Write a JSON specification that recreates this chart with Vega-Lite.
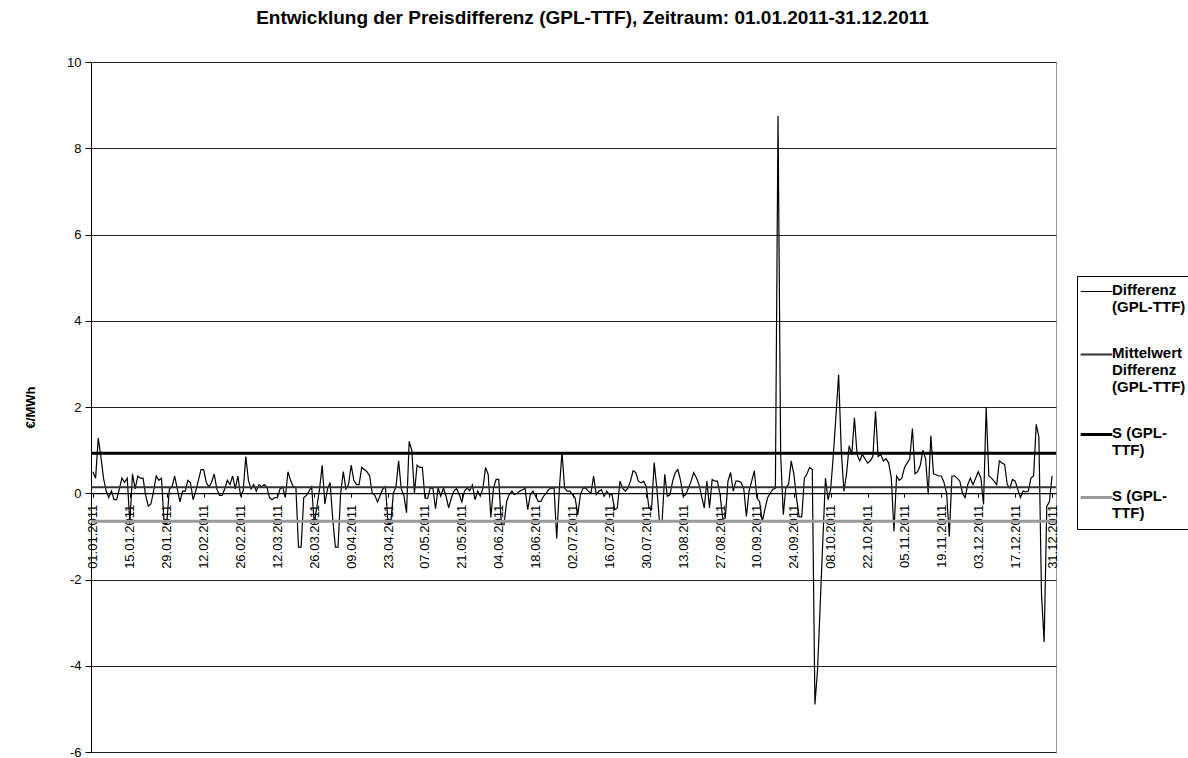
{
"$schema": "https://vega.github.io/schema/vega-lite/v6.json",
"width": 965, "height": 690,
"autosize": "none",
"padding": {"left": 91, "top": 62, "right": 132, "bottom": 6},
"background": "white",
"title": {"text": "Entwicklung der Preisdifferenz (GPL-TTF), Zeitraum: 01.01.2011-31.12.2011", "font": "Liberation Sans", "fontSize": 19, "fontWeight": "bold", "color": "black", "anchor": "middle", "frame": "group", "dx": 19, "offset": 28},
"config": {"font": "Liberation Sans", "view": {"stroke": "#999", "strokeWidth": 1}},
"datasets": {
"diff": [
{"d":"2011-01-01","v":0.5},{"d":"2011-01-02","v":0.35},{"d":"2011-01-03","v":1.28},{"d":"2011-01-04","v":0.85},{"d":"2011-01-05","v":0.35},{"d":"2011-01-06","v":0.05},{"d":"2011-01-07","v":-0.1},{"d":"2011-01-08","v":0.05},{"d":"2011-01-09","v":-0.15},{"d":"2011-01-10","v":-0.15},{"d":"2011-01-11","v":0.1},{"d":"2011-01-12","v":0.35},{"d":"2011-01-13","v":0.25},{"d":"2011-01-14","v":0.35},{"d":"2011-01-15","v":-0.7},{"d":"2011-01-16","v":0.45},{"d":"2011-01-17","v":0.1},{"d":"2011-01-18","v":0.4},{"d":"2011-01-19","v":0.35},{"d":"2011-01-20","v":0.35},{"d":"2011-01-21","v":-0.05},{"d":"2011-01-22","v":-0.3},{"d":"2011-01-23","v":-0.25},{"d":"2011-01-24","v":0.05},{"d":"2011-01-25","v":0.4},{"d":"2011-01-26","v":0.3},{"d":"2011-01-27","v":0.35},{"d":"2011-01-28","v":-0.7},{"d":"2011-01-29","v":-0.7},{"d":"2011-01-30","v":0.1},{"d":"2011-01-31","v":0.15},
{"d":"2011-02-01","v":0.4},{"d":"2011-02-02","v":0.1},{"d":"2011-02-03","v":-0.2},{"d":"2011-02-04","v":0.05},{"d":"2011-02-05","v":0.05},{"d":"2011-02-06","v":0.3},{"d":"2011-02-07","v":0.25},{"d":"2011-02-08","v":-0.15},{"d":"2011-02-09","v":0.05},{"d":"2011-02-10","v":0.3},{"d":"2011-02-11","v":0.55},{"d":"2011-02-12","v":0.55},{"d":"2011-02-13","v":0.25},{"d":"2011-02-14","v":0.15},{"d":"2011-02-15","v":0.25},{"d":"2011-02-16","v":0.45},{"d":"2011-02-17","v":0.1},{"d":"2011-02-18","v":-0.05},{"d":"2011-02-19","v":-0.05},{"d":"2011-02-20","v":0.1},{"d":"2011-02-21","v":0.3},{"d":"2011-02-22","v":0.2},{"d":"2011-02-23","v":0.4},{"d":"2011-02-24","v":0.1},{"d":"2011-02-25","v":0.4},{"d":"2011-02-26","v":-0.05},{"d":"2011-02-27","v":0.05},{"d":"2011-02-28","v":0.85},
{"d":"2011-03-01","v":0.3},{"d":"2011-03-02","v":0.1},{"d":"2011-03-03","v":0.2},{"d":"2011-03-04","v":0.05},{"d":"2011-03-05","v":0.2},{"d":"2011-03-06","v":0.15},{"d":"2011-03-07","v":0.2},{"d":"2011-03-08","v":0.15},{"d":"2011-03-09","v":-0.1},{"d":"2011-03-10","v":-0.15},{"d":"2011-03-11","v":-0.1},{"d":"2011-03-12","v":-0.1},{"d":"2011-03-13","v":0.1},{"d":"2011-03-14","v":0.15},{"d":"2011-03-15","v":-0.1},{"d":"2011-03-16","v":0.5},{"d":"2011-03-17","v":0.3},{"d":"2011-03-18","v":0.15},{"d":"2011-03-19","v":0.15},{"d":"2011-03-20","v":-1.25},{"d":"2011-03-21","v":-1.25},{"d":"2011-03-22","v":-0.1},{"d":"2011-03-23","v":-0.05},{"d":"2011-03-24","v":0.05},{"d":"2011-03-25","v":0.15},{"d":"2011-03-26","v":-0.7},{"d":"2011-03-27","v":-0.3},{"d":"2011-03-28","v":0.1},{"d":"2011-03-29","v":0.65},{"d":"2011-03-30","v":-0.25},{"d":"2011-03-31","v":0.1},
{"d":"2011-04-01","v":0.25},{"d":"2011-04-02","v":-0.6},{"d":"2011-04-03","v":-1.25},{"d":"2011-04-04","v":-1.25},{"d":"2011-04-05","v":0.0},{"d":"2011-04-06","v":0.5},{"d":"2011-04-07","v":0.1},{"d":"2011-04-08","v":0.2},{"d":"2011-04-09","v":0.65},{"d":"2011-04-10","v":0.3},{"d":"2011-04-11","v":0.2},{"d":"2011-04-12","v":0.2},{"d":"2011-04-13","v":0.6},{"d":"2011-04-14","v":0.55},{"d":"2011-04-15","v":0.5},{"d":"2011-04-16","v":0.4},{"d":"2011-04-17","v":0.0},{"d":"2011-04-18","v":-0.05},{"d":"2011-04-19","v":-0.2},{"d":"2011-04-20","v":-0.05},{"d":"2011-04-21","v":0.1},{"d":"2011-04-22","v":0.15},{"d":"2011-04-23","v":-0.7},{"d":"2011-04-24","v":-0.7},{"d":"2011-04-25","v":0.0},{"d":"2011-04-26","v":0.15},{"d":"2011-04-27","v":0.75},{"d":"2011-04-28","v":0.1},{"d":"2011-04-29","v":-0.05},{"d":"2011-04-30","v":-0.45},
{"d":"2011-05-01","v":1.2},{"d":"2011-05-02","v":1.0},{"d":"2011-05-03","v":0.0},{"d":"2011-05-04","v":0.65},{"d":"2011-05-05","v":0.6},{"d":"2011-05-06","v":0.6},{"d":"2011-05-07","v":-0.11},{"d":"2011-05-08","v":-0.12},{"d":"2011-05-09","v":0.12},{"d":"2011-05-10","v":0.12},{"d":"2011-05-11","v":-0.36},{"d":"2011-05-12","v":0.12},{"d":"2011-05-13","v":-0.07},{"d":"2011-05-14","v":0.12},{"d":"2011-05-15","v":-0.07},{"d":"2011-05-16","v":-0.34},{"d":"2011-05-17","v":-0.11},{"d":"2011-05-18","v":0.05},{"d":"2011-05-19","v":0.11},{"d":"2011-05-20","v":-0.03},{"d":"2011-05-21","v":-0.2},{"d":"2011-05-22","v":0.05},{"d":"2011-05-23","v":0.12},{"d":"2011-05-24","v":0.06},{"d":"2011-05-25","v":0.19},{"d":"2011-05-26","v":-0.15},{"d":"2011-05-27","v":0.05},{"d":"2011-05-28","v":-0.07},{"d":"2011-05-29","v":0.12},{"d":"2011-05-30","v":0.6},{"d":"2011-05-31","v":0.44},
{"d":"2011-06-01","v":-0.56},{"d":"2011-06-02","v":0.12},{"d":"2011-06-03","v":0.32},{"d":"2011-06-04","v":0.32},{"d":"2011-06-05","v":-0.73},{"d":"2011-06-06","v":-0.73},{"d":"2011-06-07","v":-0.19},{"d":"2011-06-08","v":-0.03},{"d":"2011-06-09","v":0.05},{"d":"2011-06-10","v":-0.03},{"d":"2011-06-11","v":0.0},{"d":"2011-06-12","v":0.05},{"d":"2011-06-13","v":0.08},{"d":"2011-06-14","v":0.11},{"d":"2011-06-15","v":-0.38},{"d":"2011-06-16","v":-0.03},{"d":"2011-06-17","v":0.05},{"d":"2011-06-18","v":-0.07},{"d":"2011-06-19","v":-0.19},{"d":"2011-06-20","v":-0.19},{"d":"2011-06-21","v":-0.07},{"d":"2011-06-22","v":0.0},{"d":"2011-06-23","v":0.09},{"d":"2011-06-24","v":0.12},{"d":"2011-06-25","v":0.12},{"d":"2011-06-26","v":-1.05},{"d":"2011-06-27","v":0.1},{"d":"2011-06-28","v":0.95},{"d":"2011-06-29","v":0.12},{"d":"2011-06-30","v":0.05},
{"d":"2011-07-01","v":0.05},{"d":"2011-07-02","v":-0.03},{"d":"2011-07-03","v":-0.11},{"d":"2011-07-04","v":-0.5},{"d":"2011-07-05","v":-0.03},{"d":"2011-07-06","v":0.12},{"d":"2011-07-07","v":0.12},{"d":"2011-07-08","v":0.05},{"d":"2011-07-09","v":0.0},{"d":"2011-07-10","v":0.4},{"d":"2011-07-11","v":-0.03},{"d":"2011-07-12","v":0.05},{"d":"2011-07-13","v":0.08},{"d":"2011-07-14","v":-0.07},{"d":"2011-07-15","v":0.05},{"d":"2011-07-16","v":-0.03},{"d":"2011-07-17","v":-0.03},{"d":"2011-07-18","v":-0.38},{"d":"2011-07-19","v":-0.34},{"d":"2011-07-20","v":0.28},{"d":"2011-07-21","v":0.12},{"d":"2011-07-22","v":0.05},{"d":"2011-07-23","v":0.12},{"d":"2011-07-24","v":0.28},{"d":"2011-07-25","v":0.52},{"d":"2011-07-26","v":0.48},{"d":"2011-07-27","v":0.28},{"d":"2011-07-28","v":0.24},{"d":"2011-07-29","v":0.28},{"d":"2011-07-30","v":0.15},{"d":"2011-07-31","v":-0.34},
{"d":"2011-08-01","v":-0.38},{"d":"2011-08-02","v":0.71},{"d":"2011-08-03","v":0.12},{"d":"2011-08-04","v":-0.66},{"d":"2011-08-05","v":-0.66},{"d":"2011-08-06","v":0.44},{"d":"2011-08-07","v":-0.07},{"d":"2011-08-08","v":-0.03},{"d":"2011-08-09","v":0.28},{"d":"2011-08-10","v":0.48},{"d":"2011-08-11","v":0.55},{"d":"2011-08-12","v":0.3},{"d":"2011-08-13","v":-0.07},{"d":"2011-08-14","v":-0.03},{"d":"2011-08-15","v":0.12},{"d":"2011-08-16","v":0.28},{"d":"2011-08-17","v":0.48},{"d":"2011-08-18","v":0.36},{"d":"2011-08-19","v":0.2},{"d":"2011-08-20","v":-0.07},{"d":"2011-08-21","v":-0.34},{"d":"2011-08-22","v":0.28},{"d":"2011-08-23","v":-0.34},{"d":"2011-08-24","v":0.32},{"d":"2011-08-25","v":0.28},{"d":"2011-08-26","v":0.28},{"d":"2011-08-27","v":-0.03},{"d":"2011-08-28","v":-0.58},{"d":"2011-08-29","v":-0.58},{"d":"2011-08-30","v":0.28},{"d":"2011-08-31","v":0.48},
{"d":"2011-09-01","v":0.05},{"d":"2011-09-02","v":0.28},{"d":"2011-09-03","v":0.28},{"d":"2011-09-04","v":0.25},{"d":"2011-09-05","v":0.1},{"d":"2011-09-06","v":-0.54},{"d":"2011-09-07","v":0.05},{"d":"2011-09-08","v":0.28},{"d":"2011-09-09","v":0.52},{"d":"2011-09-10","v":-0.11},{"d":"2011-09-11","v":-0.19},{"d":"2011-09-12","v":-0.66},{"d":"2011-09-13","v":-0.38},{"d":"2011-09-14","v":-0.11},{"d":"2011-09-15","v":0.0},{"d":"2011-09-16","v":0.09},{"d":"2011-09-17","v":0.12},{"d":"2011-09-18","v":8.75},{"d":"2011-09-19","v":0.9},{"d":"2011-09-20","v":-0.5},{"d":"2011-09-21","v":0.15},{"d":"2011-09-22","v":0.2},{"d":"2011-09-23","v":0.75},{"d":"2011-09-24","v":0.45},{"d":"2011-09-25","v":-0.1},{"d":"2011-09-26","v":-0.55},{"d":"2011-09-27","v":-0.55},{"d":"2011-09-28","v":0.35},{"d":"2011-09-29","v":0.45},{"d":"2011-09-30","v":0.6},
{"d":"2011-10-01","v":0.55},{"d":"2011-10-02","v":-4.9},{"d":"2011-10-03","v":-4.1},{"d":"2011-10-04","v":-2.6},{"d":"2011-10-05","v":-1.1},{"d":"2011-10-06","v":0.35},{"d":"2011-10-07","v":-0.15},{"d":"2011-10-08","v":0.1},{"d":"2011-10-09","v":0.9},{"d":"2011-10-10","v":1.8},{"d":"2011-10-11","v":2.75},{"d":"2011-10-12","v":1.0},{"d":"2011-10-13","v":0.05},{"d":"2011-10-14","v":0.45},{"d":"2011-10-15","v":1.1},{"d":"2011-10-16","v":0.9},{"d":"2011-10-17","v":1.75},{"d":"2011-10-18","v":0.9},{"d":"2011-10-19","v":0.75},{"d":"2011-10-20","v":0.9},{"d":"2011-10-21","v":0.8},{"d":"2011-10-22","v":0.7},{"d":"2011-10-23","v":0.75},{"d":"2011-10-24","v":0.85},{"d":"2011-10-25","v":1.9},{"d":"2011-10-26","v":0.85},{"d":"2011-10-27","v":0.9},{"d":"2011-10-28","v":0.75},{"d":"2011-10-29","v":0.8},{"d":"2011-10-30","v":0.7},{"d":"2011-10-31","v":0.35},
{"d":"2011-11-01","v":-0.88},{"d":"2011-11-02","v":0.4},{"d":"2011-11-03","v":0.3},{"d":"2011-11-04","v":0.35},{"d":"2011-11-05","v":0.6},{"d":"2011-11-06","v":0.7},{"d":"2011-11-07","v":0.8},{"d":"2011-11-08","v":1.5},{"d":"2011-11-09","v":0.45},{"d":"2011-11-10","v":0.5},{"d":"2011-11-11","v":0.65},{"d":"2011-11-12","v":1.0},{"d":"2011-11-13","v":0.8},{"d":"2011-11-14","v":-0.03},{"d":"2011-11-15","v":1.33},{"d":"2011-11-16","v":0.45},{"d":"2011-11-17","v":0.43},{"d":"2011-11-18","v":0.4},{"d":"2011-11-19","v":0.4},{"d":"2011-11-20","v":0.25},{"d":"2011-11-21","v":0.0},{"d":"2011-11-22","v":-1.0},{"d":"2011-11-23","v":0.4},{"d":"2011-11-24","v":0.4},{"d":"2011-11-25","v":0.35},{"d":"2011-11-26","v":0.28},{"d":"2011-11-27","v":0.0},{"d":"2011-11-28","v":-0.1},{"d":"2011-11-29","v":0.2},{"d":"2011-11-30","v":0.35},
{"d":"2011-12-01","v":0.2},{"d":"2011-12-02","v":0.35},{"d":"2011-12-03","v":0.5},{"d":"2011-12-04","v":0.35},{"d":"2011-12-05","v":-0.26},{"d":"2011-12-06","v":2.0},{"d":"2011-12-07","v":0.4},{"d":"2011-12-08","v":0.35},{"d":"2011-12-09","v":0.28},{"d":"2011-12-10","v":0.2},{"d":"2011-12-11","v":0.75},{"d":"2011-12-12","v":0.7},{"d":"2011-12-13","v":0.67},{"d":"2011-12-14","v":0.2},{"d":"2011-12-15","v":0.12},{"d":"2011-12-16","v":0.32},{"d":"2011-12-17","v":0.28},{"d":"2011-12-18","v":0.09},{"d":"2011-12-19","v":-0.1},{"d":"2011-12-20","v":0.05},{"d":"2011-12-21","v":0.03},{"d":"2011-12-22","v":0.05},{"d":"2011-12-23","v":0.35},{"d":"2011-12-24","v":0.4},{"d":"2011-12-25","v":1.6},{"d":"2011-12-26","v":1.3},{"d":"2011-12-27","v":-2.35},{"d":"2011-12-28","v":-3.45},{"d":"2011-12-29","v":-0.3},{"d":"2011-12-30","v":-0.2},{"d":"2011-12-31","v":0.4}
],
"stats": [
{"s":"Mittelwert Differenz (GPL-TTF)","v":0.14},
{"s":"S+ (GPL-TTF)","v":0.93},
{"s":"S- (GPL-TTF)","v":-0.65}
]
},
"layer": [
{
"data": {"name": "diff"},
"mark": {"type": "line", "strokeWidth": 1.2, "color": "black"},
"encoding": {
"x": {"field": "d", "type": "temporal",
 "scale": {"type": "utc", "domain": [{"year": 2010, "month": 12, "date": 31, "hours": 6, "utc": true}, {"year": 2012, "month": 1, "date": 1, "hours": 12, "utc": true}]},
 "axis": {"title": null, "offset": -258.75, "format": "%d.%m.%Y", "labelAngle": -90, "labelFontSize": 13, "labelColor": "black", "labelPadding": 7, "labelOverlap": false, "labelFlush": false, "tickSize": 4, "tickColor": "black", "domainColor": "black", "domainWidth": 1, "grid": false,
  "values": [
   {"year":2011,"month":1,"date":1,"utc":true},{"year":2011,"month":1,"date":15,"utc":true},{"year":2011,"month":1,"date":29,"utc":true},
   {"year":2011,"month":2,"date":12,"utc":true},{"year":2011,"month":2,"date":26,"utc":true},{"year":2011,"month":3,"date":12,"utc":true},
   {"year":2011,"month":3,"date":26,"utc":true},{"year":2011,"month":4,"date":9,"utc":true},{"year":2011,"month":4,"date":23,"utc":true},
   {"year":2011,"month":5,"date":7,"utc":true},{"year":2011,"month":5,"date":21,"utc":true},{"year":2011,"month":6,"date":4,"utc":true},
   {"year":2011,"month":6,"date":18,"utc":true},{"year":2011,"month":7,"date":2,"utc":true},{"year":2011,"month":7,"date":16,"utc":true},
   {"year":2011,"month":7,"date":30,"utc":true},{"year":2011,"month":8,"date":13,"utc":true},{"year":2011,"month":8,"date":27,"utc":true},
   {"year":2011,"month":9,"date":10,"utc":true},{"year":2011,"month":9,"date":24,"utc":true},{"year":2011,"month":10,"date":8,"utc":true},
   {"year":2011,"month":10,"date":22,"utc":true},{"year":2011,"month":11,"date":5,"utc":true},{"year":2011,"month":11,"date":19,"utc":true},
   {"year":2011,"month":12,"date":3,"utc":true},{"year":2011,"month":12,"date":17,"utc":true},{"year":2011,"month":12,"date":31,"utc":true}
  ]}},
"y": {"field": "v", "type": "quantitative",
 "scale": {"domain": [-6, 10], "nice": false, "zero": false},
 "axis": {"values": [-6,-4,-2,0,2,4,6,8,10], "labelExpr": "toString(datum.value)", "grid": true, "gridColor": "#222", "gridWidth": 1, "domainColor": "black", "tickColor": "black", "tickSize": 6, "labelFontSize": 13, "labelColor": "black", "labelPadding": 4, "title": "€/MWh", "titleFontSize": 13, "titleFontWeight": "bold", "titleColor": "black", "titleAngle": -90, "titleX": -61, "titleY": 345, "titleAlign": "center", "titleBaseline": "middle"}},
"color": {"datum": "Differenz (GPL-TTF)", "type": "nominal", "title": null,
 "scale": {"domain": ["Differenz (GPL-TTF)", "Mittelwert Differenz (GPL-TTF)", "S+ (GPL-TTF)", "S- (GPL-TTF)"], "range": ["#000000", "#333333", "#000000", "#999999"]},
 "legend": {"title": null, "orient": "none", "legendX": 986, "legendY": 214, "symbolType": "stroke", "symbolSize": 1000, "symbolStrokeWidth": 2, "symbolOffset": 4, "labelFont": "Liberation Sans", "labelFontSize": 15, "labelFontWeight": "bold", "labelColor": "black", "labelBaseline": "top", "labelLineHeight": 19, "labelOffset": 8, "labelLimit": 200, "rowPadding": 30, "padding": 8, "strokeColor": "black", "fillColor": "white",
  "labelExpr": "datum.label == 'Differenz (GPL-TTF)' ? ['Differenz', '(GPL-TTF)'] : datum.label == 'Mittelwert Differenz (GPL-TTF)' ? ['Mittelwert', 'Differenz', '(GPL-TTF)'] : ['S (GPL-', 'TTF)']",
  "encode": {"labels": {"update": {"dy": {"value": -9}}}, "symbols": {"update": {"strokeWidth": {"signal": "datum.value == 'Differenz (GPL-TTF)' ? 1.2 : datum.value == 'Mittelwert Differenz (GPL-TTF)' ? 2 : 3"}}}}}}
}
},
{
"data": {"name": "stats"},
"transform": [{"filter": "datum.s == 'Mittelwert Differenz (GPL-TTF)'"}],
"mark": {"type": "rule", "strokeWidth": 2},
"encoding": {"y": {"field": "v", "type": "quantitative"}, "color": {"field": "s", "type": "nominal", "title": null}}
},
{
"data": {"name": "stats"},
"transform": [{"filter": "datum.s == 'S+ (GPL-TTF)'"}],
"mark": {"type": "rule", "strokeWidth": 3},
"encoding": {"y": {"field": "v", "type": "quantitative"}, "color": {"field": "s", "type": "nominal", "title": null}}
},
{
"data": {"name": "stats"},
"transform": [{"filter": "datum.s == 'S- (GPL-TTF)'"}],
"mark": {"type": "rule", "strokeWidth": 3},
"encoding": {"y": {"field": "v", "type": "quantitative"}, "color": {"field": "s", "type": "nominal", "title": null}}
}
]
}
